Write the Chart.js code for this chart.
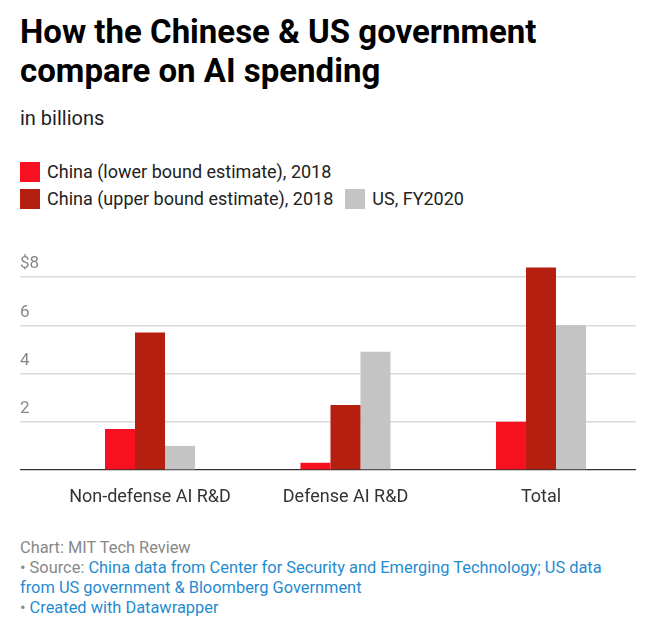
<!DOCTYPE html>
<html>
<head>
<meta charset="utf-8">
<script src="https://cdn.jsdelivr.net/npm/chart.js@4"></script>
<style>
  html, body { margin: 0; padding: 0; background: #fff; }
  body { width: 660px; height: 635px; position: relative; font-family: Roboto, "Noto Sans", sans-serif; overflow: hidden; }
  #title { position: absolute; left: 20px; top: 12px; width: 640px; font-size: 33px; font-weight: 700; line-height: 39px; color: #000; white-space: nowrap; }
  #subtitle { position: absolute; left: 20px; top: 105px; font-size: 20px; line-height: 26px; color: #222; }
  #legend { position: absolute; left: 20px; top: 158px; width: 640px; }
  .lrow { height: 27px; display: flex; align-items: center; }
  .litem { display: flex; align-items: center; margin-right: 12px; font-size: 18px; color: #222; white-space: nowrap; }
  .sw { width: 20px; height: 20px; margin-right: 7px; }
  #wrap { position: absolute; left: 0; top: 240px; width: 660px; height: 276px; }
  #footer { position: absolute; left: 20px; top: 538px; font-size: 16.4px; line-height: 20px; color: #888; white-space: nowrap; }
  #footer a { color: #1f8bd0; text-decoration: none; }
</style>
</head>
<body>
<div id="title">How the Chinese &amp; US government<br>compare on AI spending</div>
<div id="subtitle">in billions</div>
<div id="legend"></div>
<div id="wrap"><canvas id="c" width="660" height="276"></canvas></div>
<div id="footer">Chart: MIT Tech Review<br>• Source: <a>China data from Center for Security and Emerging Technology; US data<br>from US government &amp; Bloomberg Government</a><br>• <a>Created with Datawrapper</a></div>
<script>
const categories = ["Non-defense AI R&D", "Defense AI R&D", "Total"];
const seriesNames = ["China (lower bound estimate), 2018", "China (upper bound estimate), 2018", "US, FY2020"];
const chinaLower = [1.7, 0.3, 2.0];
const chinaUpper = [5.7, 2.7, 8.4];
const usFY2020 = [1.0, 4.9, 6.0];
const yTicks = [0, 2, 4, 6, 8];
const colors = ["#f7101f", "#b51f10", "#c4c4c4"];

const seriesValues = [chinaLower, chinaUpper, usFY2020];

// HTML legend: first item on its own row, then the other two
const legend = document.getElementById('legend');
const rows = [[0], [1, 2]];
rows.forEach(r => {
  const row = document.createElement('div');
  row.className = 'lrow';
  r.forEach(i => {
    const it = document.createElement('div');
    it.className = 'litem';
    const sw = document.createElement('span');
    sw.className = 'sw';
    sw.style.background = colors[i];
    const tx = document.createElement('span');
    tx.textContent = seriesNames[i];
    it.appendChild(sw); it.appendChild(tx);
    row.appendChild(it);
  });
  legend.appendChild(row);
});

const datasets = seriesValues.map((vals, s) => ({
  label: seriesNames[s],
  data: categories.map((c, i) => ({ x: i, y: vals[i] })),
  backgroundColor: colors[s],
  borderWidth: 0,
  categoryPercentage: 0.4604,
  barPercentage: 1.0
}));

new Chart(document.getElementById('c'), {
  type: 'bar',
  data: { datasets },
  options: {
    responsive: false,
    animation: false,
    events: [],
    layout: { padding: { left: 20, right: 24, top: 19, bottom: 6 } },
    plugins: { legend: { display: false }, tooltip: { enabled: false } },
    scales: {
      x: {
        type: 'linear',
        offset: false,
        bounds: 'data',
        min: -0.665,
        max: 2.486,
        grid: { display: false, drawTicks: false },
        border: { display: false },
        afterBuildTicks: (scale) => { scale.ticks = categories.map((c, i) => ({ value: i })); },
        afterFit: (scale) => { scale.height = 40; },
        ticks: {
          padding: 17,
          color: '#333',
          font: { family: 'Roboto', size: 18 },
          maxRotation: 0,
          minRotation: 0,
          autoSkip: false,
          callback: (v) => categories[v]
        }
      },
      y: {
        min: 0,
        max: 8.75,
        grid: {
          drawTicks: false,
          color: (ctx) => ctx.tick && ctx.tick.value === 0 ? '#333' : '#dadada',
          lineWidth: (ctx) => ctx.tick && ctx.tick.value === 0 ? 1.3 : 1.5
        },
        border: { display: false },
        afterBuildTicks: (scale) => { scale.ticks = yTicks.map(v => ({ value: v })); },
        ticks: {
          mirror: true,
          padding: 0,
          labelOffset: -13,
          color: '#888',
          font: { family: 'Roboto', size: 17 },
          callback: (v) => v === 0 ? '' : (v === 8 ? '$' + v : String(v))
        }
      }
    }
  }
});
</script>
</body>
</html>
